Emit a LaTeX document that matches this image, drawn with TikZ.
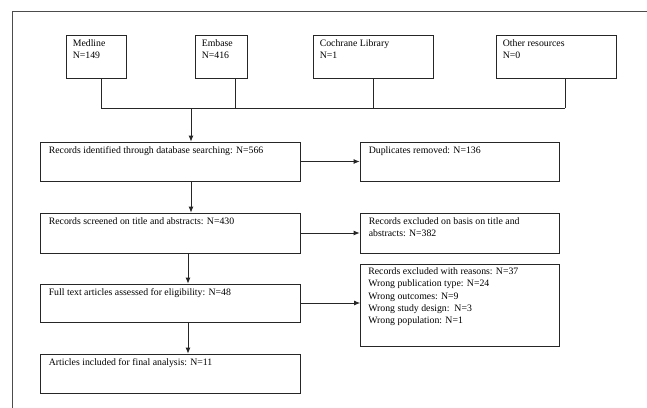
\documentclass[tikz,border=0pt]{standalone}
\usepackage{fontspec}
\setmainfont{Liberation Serif}
\usetikzlibrary{arrows.meta, positioning, calc}

\begin{document}
\begin{tikzpicture}[
    x=1pt, y=-1pt,
    box/.style={draw=black!85, line width=0.8pt, inner sep=0pt},
    src/.style={box, minimum height=43pt},
    stage/.style={box, minimum width=260pt, minimum height=39pt},
    side/.style={box, minimum width=199pt, minimum height=39pt},
    txt/.style={anchor=north west, font=\fontsize{9.8}{12.3}\selectfont, align=left, inner sep=0pt},
    ln/.style={line width=0.8pt, black!85},
    arr/.style={ln, -{Latex[length=6pt, width=5pt]}},
]
\useasboundingbox (0,0) rectangle (647,407);
\clip (0,0) rectangle (647,407);

% ── Frame ──
\draw[black!70, line width=0.8pt] (12,11) rectangle (700,450);

% ── Sources ──
\node[src, minimum width=60pt] (med) at (96,56.5) {};
\node[src, minimum width=52pt] (emb) at (221,56.5) {};
\node[src, minimum width=120pt] (coc) at (373,56.5) {};
\node[src, minimum width=120pt] (oth) at (556,56.5) {};

\node[txt] (medT) at ($(med.north west)+(7,5)$) {Medline\\N=149};
\node[txt] (embT) at ($(emb.north west)+(7,5)$) {Embase\\N=416};
\node[txt] (cocT) at ($(coc.north west)+(7,5)$) {Cochrane Library\\N=1};
\node[txt] (othT) at ($(oth.north west)+(7,5)$) {Other resources\\N=0};

% ── Flow boxes ──
\node[stage] (ident) at (170,161.5) {};
\node[side] (dup) at (459.5,161.5) {};
\node[stage, minimum height=40pt] (screen) at (170,233) {};
\node[side, minimum height=40pt] (excl) at (459.5,233) {};
\node[stage, minimum height=38pt] (full) at (170,303) {};
\node[side, minimum height=82pt] (reas) at (460,305) {};
\node[stage] (incl) at (170,373.5) {};

\node[txt] (identT) at ($(ident.north west)+(9,5)$) {Records identified through database searching: N=566};
\node[txt] (dupT) at ($(dup.north west)+(9,5)$) {Duplicates removed: N=136};
\node[txt] (screenT) at ($(screen.north west)+(9,5)$) {Records screened on title and abstracts: N=430};
\node[txt] (exclT) at ($(excl.north west)+(9,5)$) {Records excluded on basis on title and\\abstracts: N=382};
\node[txt] (fullT) at ($(full.north west)+(9,5)$) {Full text articles assessed for eligibility: N=48};
\node[txt] (reasT) at ($(reas.north west)+(8,4)$) {Records excluded with reasons: N=37\\Wrong publication type: N=24\\Wrong outcomes: N=9\\Wrong study design:\ \ N=3\\Wrong population: N=1};
\node[txt] (inclT) at ($(incl.north west)+(9,5)$) {Articles included for final analysis: N=11};

% ── Merge line ──
\coordinate (j1) at (101,108);
\coordinate (j2) at (235,108);
\coordinate (j3) at (373,108);
\coordinate (j4) at (565,108);
\coordinate (jm) at (191,108);
\coordinate (col) at (188,0);

\draw[ln] (j1 |- med.south) -- (j1);
\draw[ln] (j2 |- emb.south) -- (j2);
\draw[ln] (j3 |- coc.south) -- (j3);
\draw[ln] (j4 |- oth.south) -- (j4);
\draw[ln] (j1) -- (j4);

% ── Arrows ──
\draw[arr] (jm) -- (jm |- ident.north);
\draw[arr] (jm |- ident.south) -- (jm |- screen.north);
\draw[arr] (col |- screen.south) -- (col |- full.north);
\draw[arr] (col |- full.south) -- (col |- incl.north);
\draw[arr] (ident.east) -- (dup.west);
\draw[arr] (screen.east) -- (excl.west);
\draw[arr] (full.east) -- (reas.west |- full.east);

\end{tikzpicture}
\end{document}
